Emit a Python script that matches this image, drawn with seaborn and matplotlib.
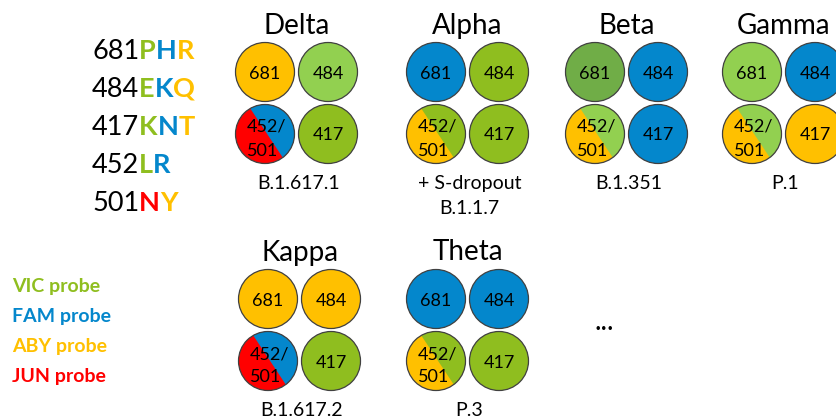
import numpy as np
import matplotlib
matplotlib.use("Agg")
import matplotlib.pyplot as plt
from matplotlib.patches import Circle, Polygon
import seaborn as sns

# ---------------- data ----------------
variants = ["Delta", "Alpha", "Beta", "Gamma", "Kappa", "Theta"]
lineages = ["B.1.617.1", "+ S-dropout\nB.1.1.7", "B.1.351", "P.1", "B.1.617.2", "P.3"]
site_labels = ["681", "484", "452/\n501", "417"]
# probe colour of each site, per variant; 452/501 given as (upper-right, lower-left)
c681 = ["aby", "fam", "dkgreen", "ltgreen", "aby", "fam"]
c484 = ["ltgreen", "vic", "fam", "fam", "aby", "fam"]
c452_501 = [("fam", "jun"), ("vic", "aby"), ("ltgreen", "aby"),
            ("ltgreen", "aby"), ("fam", "jun"), ("vic", "aby")]
c417 = ["vic", "vic", "fam", "aby", "vic", "vic"]

mut_sites = ["681", "484", "417", "452", "501"]
mut_letters = [["P", "H", "R"], ["E", "K", "Q"], ["K", "N", "T"], ["L", "R"], ["N", "Y"]]
mut_colors = [["vic", "fam", "aby"], ["vic", "fam", "aby"], ["vic", "fam", "aby"],
              ["vic", "fam"], ["jun", "aby"]]

probes = ["VIC probe", "FAM probe", "ABY probe", "JUN probe"]
probe_keys = ["vic", "fam", "aby", "jun"]

# ---------------- style ----------------
sns.set_theme(style="white")
plt.rcParams['font.family'] = ['Lato', 'DejaVu Sans']
pal_keys = ["vic", "fam", "aby", "jun", "ltgreen", "dkgreen"]
pal = dict(zip(pal_keys, sns.color_palette(
    ["#8FBE1F", "#0487CC", "#FFC000", "#FF0000", "#92D050", "#70AD47"])))
EDGE = "#404040"

W, H = 836, 417
fig = plt.figure(figsize=(W / 100, H / 100), dpi=100)
ax = fig.add_axes([0, 0, 1, 1])
ax.set_xlim(0, W)
ax.set_ylim(H, 0)
ax.axis("off")

def ctext(x, yc, s, fs, **kw):
    """text whose cap-height centre sits at yc (Lato cap height ~ fs px at 100 dpi)"""
    return ax.text(x, yc + fs * 0.5, s, fontsize=fs, va="baseline", **kw)

# ---------------- layout ----------------
left_x = [265, 436, 595, 752, 268, 436]
top_y = [72, 72, 72, 72, 299, 299]
DX, DY, R = 63, 62, 29.5
UR_A, LL_A = -53, 120  # visual angles of the 452/501 split chord ends
FS_C = 13

def arc_pts(cx, cy, a0, a1):
    t = np.radians(np.linspace(a0, a1, 80))
    return np.column_stack([cx + R * np.cos(t), cy - R * np.sin(t)])

for i, name in enumerate(variants):
    x0, y0 = left_x[i], top_y[i]
    gx = x0 + DX / 2
    ctext(gx, y0 - 48.5, name, 20, ha="center", color="black")
    cells = [(x0, y0, c681[i]), (x0 + DX, y0, c484[i]),
             (x0, y0 + DY, c452_501[i]), (x0 + DX, y0 + DY, c417[i])]
    for k, (cx, cy, col) in enumerate(cells):
        if isinstance(col, tuple):
            ax.add_patch(Circle((cx, cy), R, facecolor=pal[col[1]], edgecolor="none"))
            ax.add_patch(Polygon(arc_pts(cx, cy, UR_A, LL_A), closed=True,
                                 facecolor=pal[col[0]], edgecolor="none"))
            l1, l2 = site_labels[k].split("\n")
            ctext(cx - 18.5, cy - 8.5, l1, FS_C, ha="left", color="black")
            ctext(cx - 18.5, cy + 15, l2, FS_C, ha="left", color="black")
        else:
            ax.add_patch(Circle((cx, cy), R, facecolor=pal[col], edgecolor="none"))
            ctext(cx, cy, site_labels[k], FS_C, ha="center", color="black")
        ax.add_patch(Circle((cx, cy), R, facecolor="none", edgecolor=EDGE, lw=0.9))
    for j, line in enumerate(lineages[i].split("\n")):
        ctext(gx + 2, y0 + DY + 47.5 + 25 * j, line, 14, ha="center", color="black")

ax.text(604, 330, "...", fontsize=20, ha="center", va="baseline", color="black")

# ---------------- mutation list ----------------
fig.canvas.draw()
renderer = fig.canvas.get_renderer()
for j, site in enumerate(mut_sites):
    yc = 49 + 38 * j
    t = ctext(92, yc, site, 19.5, ha="left", color="black")
    x = t.get_window_extent(renderer).x1
    for letter, ck in zip(mut_letters[j], mut_colors[j]):
        t = ctext(x, yc, letter, 19.5, ha="left", color=pal[ck], fontweight="bold")
        x = t.get_window_extent(renderer).x1

# ---------------- probe legend ----------------
for j, (p, k) in enumerate(zip(probes, probe_keys)):
    ctext(12, 285 + 30 * j, p, 14, ha="left", color=pal[k], fontweight="bold")

fig.savefig("out.png", dpi=100)
